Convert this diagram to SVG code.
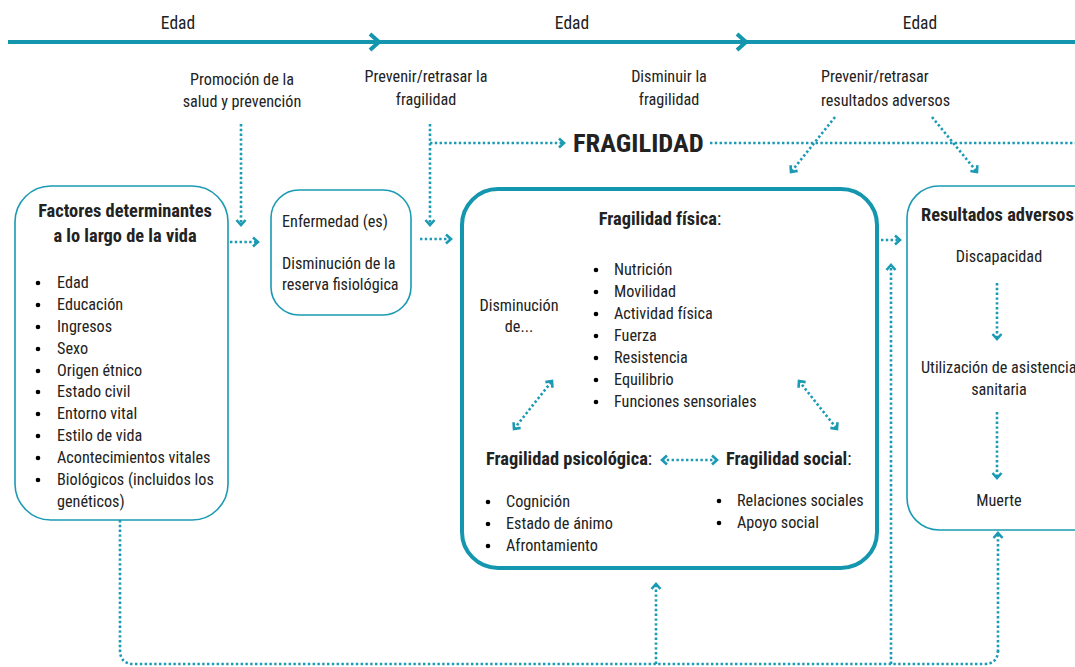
<svg xmlns="http://www.w3.org/2000/svg" width="1075" height="667" viewBox="0 0 1075 667">
<style>
text{font-family:"Liberation Sans Narrow","Roboto Condensed","Roboto","Liberation Sans",sans-serif;font-size:16.2px;fill:#222}
.b{font-weight:bold;font-size:18.4px}
.n{font-weight:normal}
.t{font-size:17.5px}
.big{font-size:26.5px;font-weight:bold}
.c{text-anchor:middle}
.box{fill:#fff;stroke:#1a9ab3;stroke-width:1.6}
.main{fill:#fff;stroke:#1496ae;stroke-width:4}
.dot{fill:none;stroke:#1a9ab3;stroke-width:2.6;stroke-dasharray:2.4 2.4}
.ah{marker-end:url(#ch)}
.da{marker-end:url(#ch);marker-start:url(#ch2)}
</style>
<defs>
<marker id="ch" markerUnits="userSpaceOnUse" markerWidth="14" markerHeight="14" refX="7" refY="7" orient="auto" viewBox="0 0 14 14">
<path d="M2,2.5 L7,7 L2,11.5" fill="none" stroke="#1a9ab3" stroke-width="2.6"/>
</marker>
<marker id="ch2" markerUnits="userSpaceOnUse" markerWidth="14" markerHeight="14" refX="7" refY="7" orient="auto-start-reverse" viewBox="0 0 14 14">
<path d="M2,2.5 L7,7 L2,11.5" fill="none" stroke="#1a9ab3" stroke-width="2.6"/>
</marker>
</defs>

<g id="timeline">
<line x1="8" y1="42" x2="1075" y2="42" stroke="#1496ae" stroke-width="4"/>
<path d="M370,34 L379,42 L370,50" fill="none" stroke="#1496ae" stroke-width="4"/>
<path d="M737,34 L746,42 L737,50" fill="none" stroke="#1496ae" stroke-width="4"/>
<text class="t c" x="178" y="29">Edad</text>
<text class="t c" x="572" y="29">Edad</text>
<text class="t c" x="920" y="29">Edad</text>
</g>

<g id="labels">
<text class="c" x="242" y="85">Promoción de la</text>
<text class="c" x="242" y="107">salud y prevención</text>
<text class="c" x="426" y="82">Prevenir/retrasar la</text>
<text class="c" x="426" y="105">fragilidad</text>
<text class="c" x="669" y="82">Disminuir la</text>
<text class="c" x="669" y="105">fragilidad</text>
<text x="821" y="82">Prevenir/retrasar</text>
<text x="821" y="106">resultados adversos</text>
</g>

<g id="fragilidad-label">
<text class="big" x="573" y="152">FRAGILIDAD</text>
</g>

<g id="factores">
<rect class="box" x="15" y="186" width="213" height="334" rx="36"/>
<text class="b c" x="125" y="217">Factores determinantes</text>
<text class="b c" x="125" y="242">a lo largo de la vida</text>
<g>
<circle cx="38" cy="283" r="2.3"/><circle cx="38" cy="305" r="2.3"/><circle cx="38" cy="327" r="2.3"/><circle cx="38" cy="349" r="2.3"/><circle cx="38" cy="371" r="2.3"/><circle cx="38" cy="392" r="2.3"/><circle cx="38" cy="414" r="2.3"/><circle cx="38" cy="436" r="2.3"/><circle cx="38" cy="458" r="2.3"/><circle cx="38" cy="480" r="2.3"/>
</g>
<text x="57" y="288">Edad</text>
<text x="57" y="310">Educación</text>
<text x="57" y="332">Ingresos</text>
<text x="57" y="354">Sexo</text>
<text x="57" y="376">Origen étnico</text>
<text x="57" y="397">Estado civil</text>
<text x="57" y="419">Entorno vital</text>
<text x="57" y="441">Estilo de vida</text>
<text x="57" y="463">Acontecimientos vitales</text>
<text x="57" y="485">Biológicos (incluidos los</text>
<text x="57" y="507">genéticos)</text>
</g>

<g id="enfermedad">
<rect class="box" x="271" y="190" width="140" height="125" rx="28"/>
<text x="282" y="227">Enfermedad (es)</text>
<text x="282" y="269">Disminución de la</text>
<text x="282" y="290">reserva fisiológica</text>
</g>

<g id="fragilidad">
<rect class="main" x="462" y="189" width="415" height="379" rx="36"/>
<text class="b c" x="660" y="225">Fragilidad física<tspan class="n">:</tspan></text>
<text class="c" x="519" y="311">Disminución</text>
<text class="c" x="519" y="332">de...</text>
<g>
<circle cx="596" cy="270" r="2.3"/><circle cx="596" cy="292" r="2.3"/><circle cx="596" cy="314" r="2.3"/><circle cx="596" cy="336" r="2.3"/><circle cx="596" cy="358" r="2.3"/><circle cx="596" cy="380" r="2.3"/><circle cx="596" cy="402" r="2.3"/>
</g>
<text x="614" y="275">Nutrición</text>
<text x="614" y="297">Movilidad</text>
<text x="614" y="319">Actividad física</text>
<text x="614" y="341">Fuerza</text>
<text x="614" y="363">Resistencia</text>
<text x="614" y="385">Equilibrio</text>
<text x="614" y="407">Funciones sensoriales</text>
<text class="b" x="486" y="465">Fragilidad psicológica<tspan class="n">:</tspan></text>
<text class="b" x="726" y="465">Fragilidad social<tspan class="n">:</tspan></text>
<g>
<circle cx="488" cy="502" r="2.3"/><circle cx="488" cy="524" r="2.3"/><circle cx="488" cy="546" r="2.3"/>
<circle cx="719" cy="501" r="2.3"/><circle cx="719" cy="523" r="2.3"/>
</g>
<text x="506" y="507">Cognición</text>
<text x="506" y="529">Estado de ánimo</text>
<text x="506" y="551">Afrontamiento</text>
<text x="737" y="506">Relaciones sociales</text>
<text x="737" y="528">Apoyo social</text>
</g>

<g id="resultados">
<rect class="box" x="907" y="186" width="200" height="344" rx="32"/>
<text class="b" x="921" y="221">Resultados adversos</text>
<text class="c" x="999" y="262">Discapacidad</text>
<text x="921" y="373">Utilización de asistencia</text>
<text class="c" x="999" y="395">sanitaria</text>
<text class="c" x="999" y="506">Muerte</text>
</g>

<g id="connectors">
<path class="dot ah" d="M241,124 V225"/>
<path class="dot ah" d="M430,124 V225"/>
<path class="dot ah" d="M430,143 H564"/>
<path class="dot" d="M710,143 H1075"/>
<path class="dot ah" d="M835,117 L791,172"/>
<path class="dot ah" d="M932,117 L977,172"/>
<path class="dot ah" d="M230,242 H258"/>
<path class="dot ah" d="M420,239 H451"/>
<path class="dot ah" d="M881,240 H900"/>
<path class="dot da" d="M514,429 L552,381"/>
<path class="dot da" d="M799,381 L837,429"/>
<path class="dot da" d="M662,460 H717"/>
<path class="dot ah" d="M997,283 V339"/>
<path class="dot ah" d="M997,412 V478"/>
<path class="dot" d="M120,520 V650 Q120,664 134,664 H984 Q998,664 998,650"/>
<path class="dot ah" d="M998,652 V533"/>
<path class="dot ah" d="M656,664 V584"/>
<path class="dot ah" d="M891,664 V265"/>
</g>
</svg>
